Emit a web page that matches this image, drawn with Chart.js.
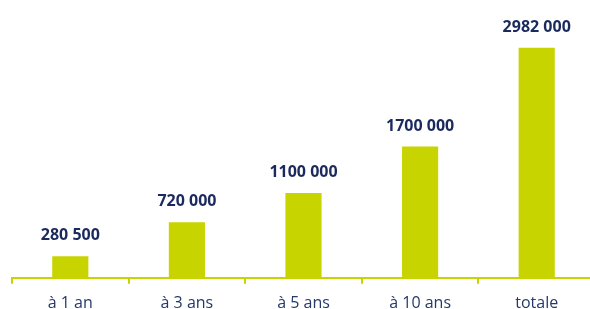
<!DOCTYPE html>
<html><head><meta charset="utf-8">
<script src="https://cdn.jsdelivr.net/npm/chart.js@4.4.1/dist/chart.umd.min.js"></script>
<style>html,body{margin:0;padding:0;background:#fff;overflow:hidden;width:590px;height:309px}</style>
</head><body>
<canvas id="c" width="600" height="323"></canvas>
<script>
const categories = ['à 1 an', 'à 3 ans', 'à 5 ans', 'à 10 ans', 'totale'];
const values = [280500, 720000, 1100000, 1700000, 2982000];
const valueLabels = ['280 500', '720 000', '1100 000', '1700 000', '2982 000'];

const BAR = '#c8d400';
const NAVY = '#1b2a5e';

const valuePlugin = {
  id: 'valueLabels',
  afterDatasetsDraw(chart) {
    const ctx = chart.ctx;
    const meta = chart.getDatasetMeta(0);
    ctx.save();
    ctx.font = 'bold 16px "Open Sans", sans-serif';
    ctx.fillStyle = NAVY;
    ctx.textAlign = 'center';
    ctx.textBaseline = 'alphabetic';
    meta.data.forEach((bar, i) => {
      ctx.fillText(valueLabels[i], bar.x, bar.y - 16);
    });
    ctx.restore();
  }
};

new Chart(document.getElementById('c'), {
  type: 'bar',
  data: {
    labels: categories,
    datasets: [{ data: values, backgroundColor: BAR, barPercentage: 0.31, categoryPercentage: 1 }]
  },
  options: {
    responsive: false,
    animation: false,
    layout: { padding: { left: 12, right: 5, top: 0, bottom: 0 } },
    plugins: { legend: { display: false }, tooltip: { enabled: false } },
    scales: {
      x: {
        offset: true,
        border: { display: true, color: BAR, width: 2 },
        grid: { display: true, drawOnChartArea: false, drawTicks: true, tickLength: 6, color: BAR, lineWidth: 2, offset: true },
        ticks: { color: '#243a6b', font: { family: '"Open Sans", sans-serif', size: 16 }, padding: 10 }
      },
      y: {
        display: false,
        min: 0,
        max: 3600000
      }
    }
  },
  plugins: [valuePlugin]
});
</script>
</body></html>
